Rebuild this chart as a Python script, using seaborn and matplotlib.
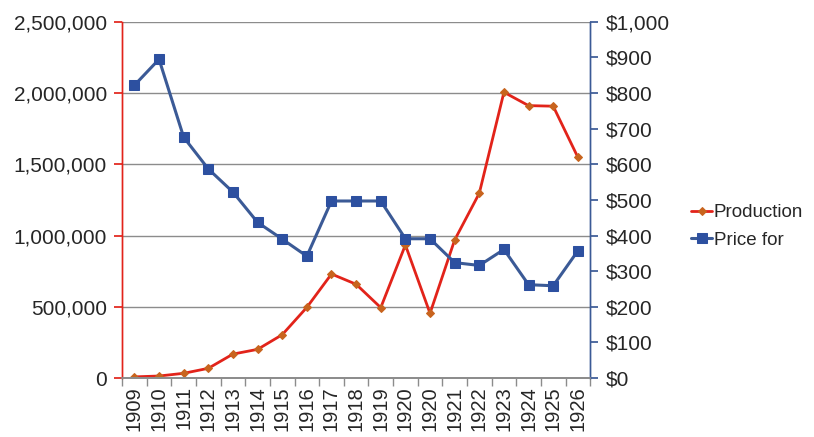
import numpy as np
import pandas as pd
import matplotlib
matplotlib.use("Agg")
import matplotlib.pyplot as plt
import seaborn as sns
from matplotlib.ticker import FuncFormatter, FixedLocator

years = ["1909", "1910", "1911", "1912", "1913", "1914", "1915", "1916", "1917", "1918",
         "1919", "1920", "1920", "1921", "1922", "1923", "1924", "1925", "1926"]
production = [8000, 14000, 33000, 68000, 168000, 201000, 304000, 496000, 730000, 658000,
              494000, 934000, 454000, 969000, 1297000, 2006000, 1912000, 1908000, 1550000]
price = [822, 895, 676, 587, 522, 437, 390, 342, 497, 497,
         497, 391, 391, 324, 316, 361, 262, 259, 357]

sns.set_theme(style="white")
plt.rcParams['font.family'] = ['Liberation Sans', 'DejaVu Sans']

pos = np.arange(len(years))
df = pd.DataFrame({"pos": pos, "production": production, "price": price})

fig = plt.figure(figsize=(8.14, 4.37), dpi=100)
ax = fig.add_axes([0.150, 0.135, 0.575, 0.815])
ax2 = ax.twinx()

red = "#E2231A"
blue = "#3B5A96"

sns.lineplot(data=df, x="pos", y="production", ax=ax, color=red, linewidth=2,
             marker="D", markersize=4.5, markerfacecolor="#C8641E", markeredgecolor="#C8641E",
             sort=False, label="Production", legend=False)
sns.lineplot(data=df, x="pos", y="price", ax=ax2, color=blue, linewidth=2.2,
             marker="s", markersize=7.5, markerfacecolor="#2D50A0", markeredgecolor="#2D50A0",
             sort=False, label="Price for", legend=False)

ax.set_ylim(0, 2500000)
ax2.set_ylim(0, 1000)
ax.set_xlim(-0.5, len(years) - 0.5)

ax.yaxis.set_major_locator(FixedLocator(np.arange(0, 2500001, 500000)))
ax.yaxis.set_major_formatter(FuncFormatter(lambda v, p: f"{int(v):,}"))
ax2.yaxis.set_major_locator(FixedLocator(np.arange(0, 1001, 100)))
ax2.yaxis.set_major_formatter(FuncFormatter(lambda v, p: f"${int(v):,}"))

ax.grid(axis="y", color="#8C8C8C", linewidth=1)
ax.set_axisbelow(True)

ax.set_xticks(pos)
ax.set_xticklabels(years, rotation=90, fontsize=14.5)
ax.set_xticks(np.arange(-0.5, len(years), 1), minor=True)
ax.tick_params(axis="x", which="major", length=0, pad=6)
ax.tick_params(axis="x", which="minor", length=6, direction="out", color="#8C8C8C", width=1, bottom=True)
ax.tick_params(axis="y", labelsize=15, length=6, direction="out", color=red, left=True, pad=5)
ax2.tick_params(axis="y", labelsize=15, length=6, direction="out", color=blue, right=True, pad=5)

ax.set_xlabel("")
ax.set_ylabel("")
ax2.set_ylabel("")

for a in (ax, ax2):
    a.spines["top"].set_visible(False)
    a.spines["left"].set_color(red)
    a.spines["right"].set_color(blue)
    a.spines["bottom"].set_color("#8C8C8C")
    a.spines["left"].set_linewidth(1)
    a.spines["right"].set_linewidth(1)

h1, l1 = ax.get_legend_handles_labels()
h2, l2 = ax2.get_legend_handles_labels()
fig.legend(h1 + h2, l1 + l2, loc="center left", bbox_to_anchor=(0.840, 0.482),
           frameon=False, fontsize=13.5, handlelength=1.1, handletextpad=0.1,
           labelspacing=0.55, borderaxespad=0)

fig.savefig("out.png", dpi=100)
